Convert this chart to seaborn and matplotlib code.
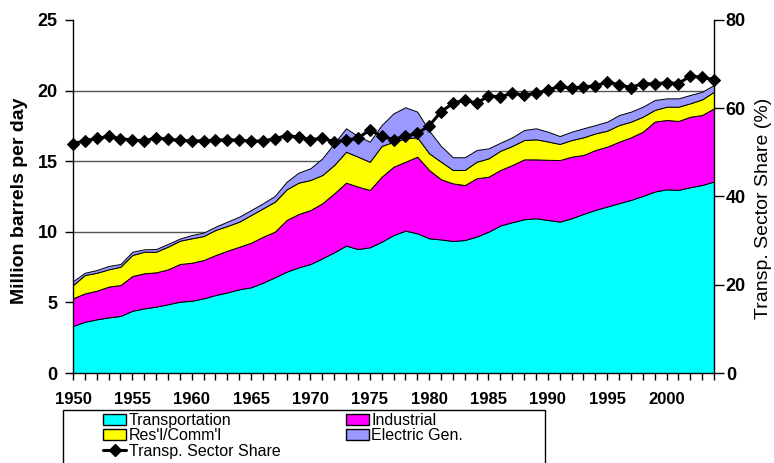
import matplotlib
matplotlib.use('Agg')
import matplotlib.pyplot as plt
import seaborn as sns
import pandas as pd
from matplotlib.patches import Patch, Rectangle
from matplotlib.lines import Line2D
from matplotlib.ticker import MultipleLocator

# petroleum use by sector, million barrels per day
years = list(range(1950, 2005))
transportation = [3.33, 3.63, 3.80, 3.94, 4.04, 4.41, 4.58, 4.70, 4.87, 5.05,
                  5.12, 5.29, 5.52, 5.71, 5.93, 6.07, 6.40, 6.78, 7.18, 7.48,
                  7.72, 8.12, 8.55, 9.02, 8.78, 8.90, 9.30, 9.77, 10.08, 9.89,
                  9.54, 9.46, 9.35, 9.42, 9.66, 10.01, 10.45, 10.68, 10.89, 10.96,
                  10.84, 10.72, 10.96, 11.27, 11.55, 11.79, 12.03, 12.26, 12.54, 12.85,
                  13.01, 12.97, 13.16, 13.32, 13.56]
industrial = [1.96, 2.01, 2.03, 2.18, 2.19, 2.46, 2.48, 2.43, 2.47, 2.67,
              2.69, 2.71, 2.83, 2.95, 3.01, 3.16, 3.25, 3.23, 3.66, 3.78,
              3.82, 3.90, 4.17, 4.46, 4.42, 4.06, 4.60, 4.84, 4.88, 5.43,
              4.84, 4.26, 4.08, 3.89, 4.13, 3.89, 3.93, 4.05, 4.24, 4.17,
              4.26, 4.36, 4.36, 4.17, 4.24, 4.24, 4.35, 4.43, 4.55, 4.95,
              4.91, 4.88, 4.99, 4.95, 5.19]
resl_comm = [0.94, 1.30, 1.27, 1.22, 1.30, 1.49, 1.53, 1.46, 1.61, 1.65,
             1.73, 1.70, 1.78, 1.75, 1.78, 1.96, 2.01, 2.12, 2.17, 2.22,
             2.13, 2.00, 2.01, 2.19, 2.12, 2.00, 2.18, 1.77, 1.66, 1.37,
             1.18, 1.24, 0.95, 1.07, 1.17, 1.30, 1.36, 1.35, 1.37, 1.42,
             1.30, 1.14, 1.18, 1.25, 1.18, 1.13, 1.18, 1.11, 1.06, 0.83,
             0.94, 1.01, 0.95, 1.11, 1.17]
electric_gen = [0.27, 0.16, 0.19, 0.24, 0.19, 0.23, 0.17, 0.19, 0.19, 0.15,
                0.23, 0.24, 0.23, 0.31, 0.35, 0.35, 0.36, 0.41, 0.54, 0.71,
                0.83, 1.18, 1.54, 1.66, 1.46, 1.42, 1.48, 2.01, 2.20, 1.82,
                1.60, 1.12, 0.90, 0.90, 0.83, 0.71, 0.57, 0.61, 0.71, 0.78,
                0.69, 0.56, 0.59, 0.64, 0.59, 0.64, 0.71, 0.71, 0.71, 0.70,
                0.59, 0.59, 0.59, 0.54, 0.48]
# transportation share of total, percent
transp_share = [52.0, 52.6, 53.2, 53.6, 53.1, 52.8, 52.6, 53.3, 53.0, 52.7,
                52.6, 52.6, 52.8, 52.8, 52.8, 52.5, 52.6, 53.1, 53.8, 53.5,
                52.9, 53.2, 52.4, 52.8, 53.2, 55.1, 53.7, 52.9, 53.7, 54.3,
                56.0, 59.2, 61.1, 61.9, 61.1, 62.8, 62.6, 63.4, 63.0, 63.4,
                64.1, 65.0, 64.5, 64.9, 65.0, 66.0, 65.3, 64.7, 65.6, 65.5,
                65.8, 65.6, 67.3, 67.0, 66.5]

sector_names = ['Transportation', 'Industrial', "Res'l/Comm'l", 'Electric Gen.']
sector_colors = ['#00FFFF', '#FF00FF', '#FFFF00', '#9999FF']

sns.set_style('ticks')
plt.rcParams['font.family'] = ['Liberation Sans', 'DejaVu Sans']
plt.rcParams['text.color'] = 'black'
plt.rcParams['axes.labelcolor'] = 'black'
plt.rcParams['xtick.color'] = 'black'
plt.rcParams['ytick.color'] = 'black'

fig = plt.figure(figsize=(7.74, 4.63), dpi=100)
ax = fig.add_axes([73 / 774, 1 - 373 / 463, 641 / 774, 353 / 463])

ax.stackplot(years, transportation, industrial, resl_comm, electric_gen,
             colors=sector_colors, edgecolor='black', linewidth=0.7)
ax.set_xlim(1950, 2004)
ax.set_ylim(0, 25)
ax.set_yticks(range(0, 26, 5))
ax.set_xticks(range(1950, 2001, 5))
ax.xaxis.set_minor_locator(MultipleLocator(1))
ax.grid(axis='y', color='#555555', lw=1)
ax.get_ygridlines()[-1].set_visible(False)
ax.set_axisbelow(True)
ax.spines['top'].set_visible(False)
ax.spines['right'].set_visible(False)
for s in ['left', 'bottom']:
    ax.spines[s].set_color('black')
    ax.spines[s].set_linewidth(1)
ax.tick_params(axis='y', direction='out', length=6, width=1, pad=5,
               labelsize=13, color='black', labelcolor='black')
ax.tick_params(axis='x', which='both', direction='out', length=5, width=1,
               pad=9, labelsize=12, color='black', labelcolor='black')
ax.set_ylabel('Million barrels per day', fontsize=14, fontweight='bold')
ax.yaxis.set_label_coords(-0.07, 0.487)

ax2 = ax.twinx()
df = pd.DataFrame({'year': years, 'share': transp_share})
sns.lineplot(data=df, x='year', y='share', ax=ax2, color='black', lw=2.2,
             marker='D', markersize=6, markeredgecolor='black', clip_on=False)
ax2.set_xlim(1950, 2004)
ax2.set_ylim(0, 80)
ax2.set_yticks(range(0, 81, 20))
ax2.spines['top'].set_visible(False)
ax2.spines['left'].set_visible(False)
ax2.spines['bottom'].set_visible(False)
ax2.spines['right'].set_color('black')
ax2.spines['right'].set_linewidth(1)
ax2.tick_params(axis='y', direction='out', length=7, width=1, pad=1.5,
                labelsize=13, color='black', labelcolor='black')
ax2.set_xlabel('')
ax2.set_ylabel('Transp. Sector Share (%)', fontsize=14)
ax2.yaxis.set_label_coords(1.064, 0.467)

for lbl in ax.get_xticklabels() + ax.get_yticklabels() + ax2.get_yticklabels():
    lbl.set_fontweight('bold')

patches = [Patch(facecolor=c, edgecolor='black', lw=1) for c in sector_colors]
share_handle = Line2D([], [], color='black', lw=2.2, marker='D', markersize=6)
handles = [patches[0], patches[2], share_handle, patches[1], patches[3]]
labels = [sector_names[0], sector_names[2], 'Transp. Sector Share',
          sector_names[1], sector_names[3]]
fig.legend(handles, labels, ncol=2, loc='upper left',
           bbox_to_anchor=(103 / 774, 1 - 413 / 463), frameon=False,
           fontsize=11.5, borderpad=0, borderaxespad=0, handlelength=1.45,
           handleheight=0.7, handletextpad=0.15, columnspacing=4.1,
           labelspacing=0.02)
fig.add_artist(Rectangle((63 / 774, -0.1), (545 - 63) / 774, 1 - 410 / 463 + 0.1,
                         transform=fig.transFigure, fill=False,
                         edgecolor='black', lw=1, clip_on=False))

fig.savefig('out.png', dpi=100)
